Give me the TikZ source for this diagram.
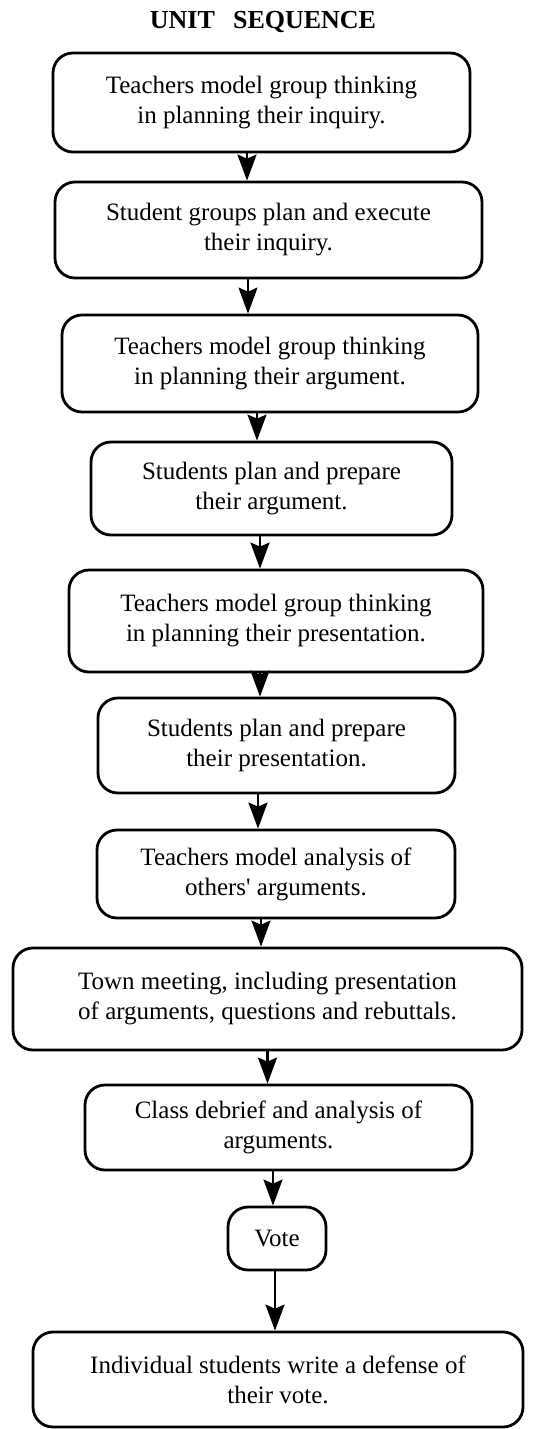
\documentclass[tikz,border=0pt]{standalone}
\usepackage{fontspec}
\setmainfont{Liberation Serif}
\usepackage{tikz}
\usetikzlibrary{arrows.meta, positioning, calc}

\begin{document}
\begin{tikzpicture}[x=0.5pt,y=-0.5pt,
    stepbox/.style={draw,line width=1.4pt,rounded corners=10pt,align=center,inner sep=0pt,
        font=\fontsize{12.5}{15}\selectfont},
    flow/.style={line width=1.2pt,-{Stealth[length=13pt,width=9.5pt,inset=2pt]}}]
    \useasboundingbox (0,0) rectangle (548,1429);
    % Title
    \node[font=\fontsize{13}{16}\selectfont\bfseries] (title) at (263,22) {UNIT\hspace{0.7em}SEQUENCE};
    % Steps of the unit
    \node[stepbox,minimum width=208.5pt,minimum height=49.5pt] (b1) at (261.5,102.5) {Teachers model group thinking\\in planning their inquiry.};
    \node[stepbox,minimum width=213.5pt,minimum height=48pt] (b2) at (268.5,230) {Student groups plan and execute\\their inquiry.};
    \node[stepbox,minimum width=208pt,minimum height=48.5pt] (b3) at (270,363.5) {Teachers model group thinking\\in planning their argument.};
    \node[stepbox,minimum width=180.5pt,minimum height=46.5pt] (b4) at (271.5,488.5) {Students plan and prepare\\their argument.};
    \node[stepbox,minimum width=207pt,minimum height=51pt] (b5) at (276,621) {Teachers model group thinking\\in planning their presentation.};
    \node[stepbox,minimum width=178.5pt,minimum height=47.5pt] (b6) at (276.5,745.5) {Students plan and prepare\\their presentation.};
    \node[stepbox,minimum width=179pt,minimum height=44pt] (b7) at (276,874) {Teachers model analysis of\\others\textquotesingle{} arguments.};
    \node[stepbox,minimum width=254.5pt,minimum height=51pt] (b8) at (267.5,999) {Town meeting, including presentation\\of arguments, questions and rebuttals.};
    \node[stepbox,minimum width=193.5pt,minimum height=42.5pt] (b9) at (278.5,1127.5) {Class debrief and analysis of\\arguments.};
    \node[stepbox,minimum width=49pt,minimum height=31.5pt] (b10) at (277,1238.5) {Vote};
    \node[stepbox,minimum width=245pt,minimum height=47.5pt] (b11) at (278,1379.5) {Individual students write a defense of\\their vote.};
    % Arrows from step to step
    \foreach \a/\b/\s in {b1/b2/-14.5,b2/b3/-20.5,b3/b4/-13,b4/b5/-11.5,b5/b6/-16,b6/b7/-18.5,b7/b8/-15,b8/b9/0,b9/b10/-5.5,b10/b11/-2} {
        \draw[flow] ([xshift=\s*0.5pt]\a.south) -- ([xshift=\s*0.5pt]\a.south |- \b.north);
    }
\end{tikzpicture}
\end{document}
